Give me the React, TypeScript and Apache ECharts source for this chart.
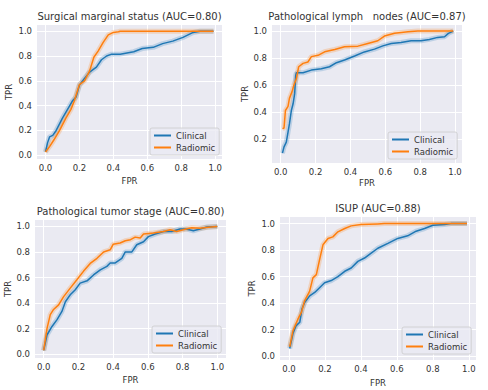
import React, { useEffect, useRef } from "react";
import * as echarts from "echarts";

const xTicks = [0, 0.2, 0.4, 0.6, 0.8, 1.0];
const yTicks = [0, 0.2, 0.4, 0.6, 0.8, 1.0];
const seriesNames = ["Clinical", "Radiomic"];
const seriesColors = ["#1f77b4", "#ff7f0e"];
const panelTitles = [
  "Surgical marginal status (AUC=0.80)",
  "Pathological lymph   nodes (AUC=0.87)",
  "Pathological tumor stage (AUC=0.80)",
  "ISUP (AUC=0.88)",
];

const surgicalClinical = [
  [0, 0.027], [0.012, 0.1], [0.024, 0.148], [0.043, 0.16], [0.063, 0.2], [0.1, 0.3], [0.13, 0.37],
  [0.16, 0.44], [0.18, 0.47], [0.2, 0.565], [0.23, 0.62], [0.26, 0.67], [0.3, 0.71], [0.33, 0.77],
  [0.36, 0.8], [0.39, 0.815], [0.44, 0.815], [0.52, 0.835], [0.57, 0.86], [0.635, 0.87], [0.69, 0.9],
  [0.75, 0.92], [0.81, 0.95], [0.87, 0.99], [0.91, 1.0], [0.99, 1.0],
];
const surgicalRadiomic = [
  [0, 0.027], [0.024, 0.07], [0.05, 0.125], [0.083, 0.2], [0.12, 0.3], [0.15, 0.37], [0.17, 0.44],
  [0.2, 0.57], [0.23, 0.6], [0.26, 0.68], [0.285, 0.79], [0.31, 0.84], [0.34, 0.91], [0.37, 0.97],
  [0.4, 0.99], [0.43, 0.995], [0.44, 1.0], [0.99, 1.0],
];
const lymphClinical = [
  [0.01, 0.093], [0.019, 0.14], [0.032, 0.175], [0.042, 0.25], [0.05, 0.31], [0.061, 0.41], [0.071, 0.46],
  [0.08, 0.535], [0.086, 0.67], [0.09, 0.69], [0.128, 0.69], [0.176, 0.71], [0.233, 0.72], [0.28, 0.735],
  [0.32, 0.765], [0.366, 0.785], [0.424, 0.815], [0.48, 0.845], [0.538, 0.866], [0.586, 0.89],
  [0.634, 0.908], [0.69, 0.915], [0.748, 0.928], [0.805, 0.928], [0.853, 0.938], [0.9, 0.953],
  [0.94, 0.958], [0.962, 0.983], [0.99, 1.0],
];
const lymphRadiomic = [
  [0.01, 0.275], [0.019, 0.28], [0.027, 0.41], [0.042, 0.44], [0.05, 0.5], [0.065, 0.55], [0.076, 0.6],
  [0.09, 0.647], [0.103, 0.735], [0.128, 0.76], [0.156, 0.77], [0.176, 0.81], [0.214, 0.82], [0.252, 0.846],
  [0.31, 0.863], [0.366, 0.883], [0.443, 0.888], [0.5, 0.908], [0.557, 0.928], [0.595, 0.963],
  [0.653, 0.983], [0.73, 0.995], [0.786, 1.0], [0.99, 1.0],
];
const tumorClinical = [
  [0, 0.029], [0.019, 0.15], [0.048, 0.217], [0.077, 0.27], [0.105, 0.334], [0.125, 0.41], [0.153, 0.465],
  [0.182, 0.504], [0.21, 0.556], [0.25, 0.574], [0.287, 0.62], [0.326, 0.66], [0.364, 0.687], [0.383, 0.713],
  [0.41, 0.713], [0.45, 0.75], [0.47, 0.8], [0.508, 0.8], [0.536, 0.856], [0.575, 0.88], [0.603, 0.92],
  [0.642, 0.94], [0.69, 0.96], [0.737, 0.96], [0.785, 0.98], [0.82, 0.98], [0.862, 0.966], [0.9, 0.98],
  [0.94, 0.995], [1.0, 1.0],
];
const tumorRadiomic = [
  [0, 0.029], [0.019, 0.2], [0.038, 0.31], [0.057, 0.35], [0.086, 0.386], [0.115, 0.45], [0.153, 0.517],
  [0.19, 0.58], [0.23, 0.65], [0.268, 0.71], [0.307, 0.75], [0.345, 0.8], [0.383, 0.817], [0.4, 0.86],
  [0.44, 0.87], [0.47, 0.888], [0.5, 0.896], [0.527, 0.916], [0.556, 0.91], [0.575, 0.94], [0.632, 0.948],
  [0.69, 0.96], [0.728, 0.974], [0.766, 0.96], [0.82, 0.98], [0.853, 0.99], [0.9, 0.985], [0.948, 0.994],
  [1.0, 1.0],
];
const isupClinical = [
  [0.004, 0.057], [0.022, 0.17], [0.04, 0.23], [0.06, 0.255], [0.072, 0.355], [0.087, 0.404], [0.115, 0.454],
  [0.143, 0.48], [0.17, 0.516], [0.198, 0.553], [0.235, 0.57], [0.272, 0.6], [0.31, 0.64], [0.346, 0.665],
  [0.383, 0.715], [0.42, 0.74], [0.457, 0.777], [0.494, 0.814], [0.55, 0.851], [0.605, 0.888], [0.66, 0.908],
  [0.707, 0.943], [0.754, 0.963], [0.8, 0.988], [0.865, 0.993], [0.9, 1.0], [0.99, 1.0],
];
const isupRadiomic = [
  [0.004, 0.07], [0.022, 0.19], [0.05, 0.28], [0.069, 0.33], [0.087, 0.417], [0.115, 0.49], [0.133, 0.59],
  [0.152, 0.615], [0.17, 0.727], [0.189, 0.84], [0.217, 0.888], [0.244, 0.9], [0.272, 0.938], [0.31, 0.963],
  [0.346, 0.983], [0.4, 0.993], [0.494, 0.998], [0.53, 1.0], [0.99, 1.0],
];

const panelData = [
  [surgicalClinical, surgicalRadiomic],
  [lymphClinical, lymphRadiomic],
  [tumorClinical, tumorRadiomic],
  [isupClinical, isupRadiomic],
];

const FONT = "DejaVu Sans";
const TEXT = "#333333";

const layouts = [
  { grid: { left: 37, top: 25, width: 185, height: 134 }, x: [-0.05, 1.04], y: [-0.03, 1.05], title: [129.5, 16], legend: [150, 128], xGap: 17, yGap: 24 },
  { grid: { left: 272, top: 25, width: 190, height: 138 }, x: [-0.05, 1.04], y: [0.02, 1.045], title: [367, 16], legend: [388, 132], xGap: 15, yGap: 20 },
  { grid: { left: 35, top: 220, width: 191, height: 138 }, x: [-0.05, 1.05], y: [-0.03, 1.05], title: [130.5, 211], legend: [152, 326], xGap: 17, yGap: 23 },
  { grid: { left: 280, top: 217, width: 196, height: 143 }, x: [-0.05, 1.04], y: [-0.03, 1.05], title: [378, 208], legend: [402, 327], xGap: 18, yGap: 24 },
];

export default function App() {
  const ref = useRef<HTMLDivElement>(null);
  useEffect(() => {
    if (!ref.current) return;
    const chart = echarts.init(ref.current, null, { renderer: "svg" });
    const axisCommon = (ticks: number[]) => ({
      type: "value" as const,
      axisLine: { show: false },
      axisTick: { show: false, customValues: ticks },
      axisLabel: {
        customValues: ticks,
        color: TEXT,
        fontSize: 8.5,
        fontFamily: FONT,
        formatter: (v: number) => v.toFixed(1),
      },
      splitLine: { show: true, lineStyle: { color: "#ffffff", width: 1 } },
      nameTextStyle: { color: TEXT, fontSize: 8.5, fontFamily: FONT },
      nameLocation: "middle" as const,
    });
    const series: any[] = [];
    panelData.forEach((pair, i) => {
      pair.forEach((data, j) => {
        series.push({
          type: "line",
          name: "band",
          xAxisIndex: i,
          yAxisIndex: i,
          data,
          showSymbol: false,
          silent: true,
          lineStyle: { color: seriesColors[j], width: 5, opacity: 0.22 },
          itemStyle: { color: seriesColors[j] },
          z: 1,
        });
      });
      pair.forEach((data, j) => {
        series.push({
          type: "line",
          name: seriesNames[j],
          xAxisIndex: i,
          yAxisIndex: i,
          data,
          showSymbol: false,
          lineStyle: { color: seriesColors[j], width: 1.5 },
          itemStyle: { color: seriesColors[j] },
          z: 2 + j,
        });
      });
    });
    chart.setOption({
      animation: false,
      textStyle: { fontFamily: FONT },
      grid: layouts.map((l) => ({ ...l.grid, show: true, backgroundColor: "#EAEAF2", borderWidth: 0 })),
      xAxis: layouts.map((l, i) => ({
        ...axisCommon(xTicks),
        gridIndex: i,
        min: l.x[0],
        max: l.x[1],
        name: "FPR",
        nameGap: l.xGap,
        axisLabel: { ...axisCommon(xTicks).axisLabel, margin: 4 },
      })),
      yAxis: layouts.map((l, i) => ({
        ...axisCommon(yTicks),
        gridIndex: i,
        min: l.y[0],
        max: l.y[1],
        name: "TPR",
        nameGap: l.yGap,
        axisLabel: { ...axisCommon(yTicks).axisLabel, margin: 5 },
      })),
      legend: layouts.map((l) => ({
        data: seriesNames,
        left: l.legend[0],
        top: l.legend[1],
        orient: "vertical",
        icon: "rect",
        itemWidth: 17,
        itemHeight: 2,
        itemGap: 3,
        padding: [3, 4, 3, 4],
        selectedMode: false,
        backgroundColor: "rgba(234,234,242,0.8)",
        borderColor: "#cccccc",
        borderWidth: 0.8,
        borderRadius: 2,
        textStyle: { color: TEXT, fontSize: 8.5, fontFamily: FONT },
      })),
      graphic: layouts.map((l, i) => ({
        type: "text",
        x: l.title[0],
        y: l.title[1],
        style: {
          text: panelTitles[i],
          fill: TEXT,
          font: `10px "${FONT}"`,
          textAlign: "center",
          textVerticalAlign: "middle",
        },
      })),
      series,
    });
    return () => chart.dispose();
  }, []);
  return (
    <div
      ref={ref}
      style={{ position: "fixed", left: 0, top: 0, width: 488, height: 390, background: "#ffffff" }}
    />
  );
}
